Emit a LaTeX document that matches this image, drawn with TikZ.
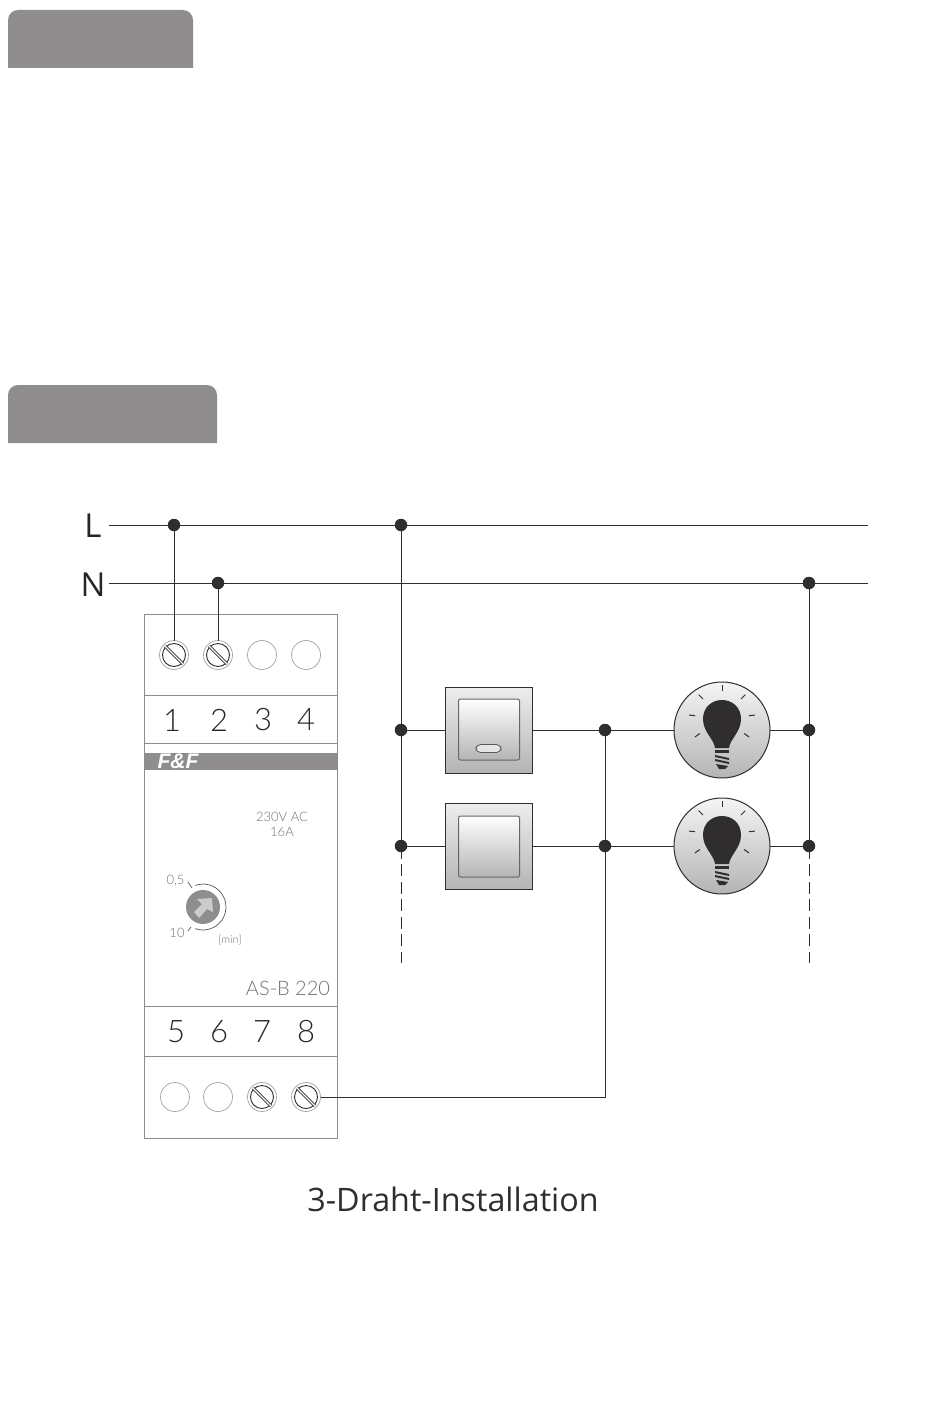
\documentclass[tikz,border=0pt]{standalone}
\usepackage{fontspec}
\setmainfont{Open Sans}
\newfontfamily\thinfont{Lato}[UprightFont=* Light]
\newfontfamily\logofont{Liberation Sans}
\usetikzlibrary{positioning}

\definecolor{tabgray}{HTML}{8F8D8D}
\definecolor{framegray}{HTML}{8C8C8C}
\definecolor{wirecol}{HTML}{2F2D2E}
\definecolor{shadegray}{HTML}{B4B4B4}

\tikzset{
  wire/.style={draw=wirecol, line width=1pt},
  stub/.style={wire, dash pattern=on 12pt off 5.5pt, dash phase=5.5pt},
  frame/.style={draw=framegray, line width=1pt},
  joint/.style={circle, fill=wirecol, minimum size=12.5pt, inner sep=0pt, outer sep=0pt},
  emptyscrew/.style={circle, draw=framegray!80, line width=.7pt, minimum size=29pt, inner sep=0pt, outer sep=0pt},
  screw/.style={emptyscrew, path picture={
    \draw [wirecol, line width=.9pt] (path picture bounding box.center) circle (11.5pt);
    \draw [wirecol, line width=3pt] ([shift={(-9pt,9pt)}]path picture bounding box.center) -- ([shift={(9pt,-9pt)}]path picture bounding box.center);
    \draw [white, line width=1.2pt] ([shift={(-11pt,11pt)}]path picture bounding box.center) -- ([shift={(11pt,-11pt)}]path picture bounding box.center);
  }},
  termnum/.style={font=\thinfont\fontsize{31}{31}\selectfont, text=black!85, inner sep=0pt},
  devtext/.style={font=\thinfont\fontsize{#1}{#1}\selectfont, text=framegray!80!black, inner sep=0pt, align=center},
  busname/.style={font=\fontsize{33}{33}\selectfont, text=black!85, inner sep=0pt},
  plate/.style={draw=wirecol, line width=1pt, top color=white!93!black, bottom color=shadegray, minimum width=87pt, minimum height=86pt, inner sep=0pt, outer sep=0pt},
  rocker/.style={draw=black!60, line width=1pt, rounded corners=2pt, top color=white, bottom color=shadegray, minimum width=61pt, minimum height=61pt, inner sep=0pt},
  pilot/.style={draw=black!65, line width=.8pt, rounded corners=4.5pt, fill=white!90!black, minimum width=25pt, minimum height=8pt, inner sep=0pt},
  lamp/.style={circle, draw=wirecol, line width=1pt, top color=white!96!black, bottom color=shadegray, minimum size=96pt, inner sep=0pt, outer sep=0pt},
}

\newcommand{\bulbglyph}[1]{
  \begin{scope}[shift={(#1.center)}]
    \fill [wirecol] (-7,18) .. controls (-8,9) and (-19,2) .. (-19,-11) .. controls (-19,-23) and (-10,-30) .. (0,-30) .. controls (10,-30) and (19,-23) .. (19,-11) .. controls (19,2) and (8,9) .. (7,18) -- cycle;
    \fill [wirecol] (-7,20) rectangle (7,23);
    \fill [wirecol] (-7,25) -- (7,28) -- (7,30) -- (-7,27) -- cycle;
    \fill [wirecol] (-7,29) -- (7,32) -- (7,34) -- (-7,31) -- cycle;
    \fill [wirecol] (-6,34) -- (6,36) -- (3,39) -- (-3,39) -- cycle;
    \foreach \ang in {90,45,135,5,175,-35,215} {
      \draw [wirecol, line width=1pt] (0,-12) ++(\ang:27pt) -- ++(\ang:6pt);
    }
  \end{scope}
}

\begin{document}
\begin{tikzpicture}[x=1pt, y=-1pt]
  \useasboundingbox (0,0) rectangle (950,1402);

  % grey tabs
  \fill [tabgray] (8,68) -- (8,20) arc[start angle=180, end angle=90, radius=10pt] -- (183,10) arc[start angle=90, end angle=0, radius=10pt] -- (193,68) -- cycle;
  \fill [tabgray] (8,443) -- (8,395) arc[start angle=180, end angle=90, radius=10pt] -- (207,385) arc[start angle=90, end angle=0, radius=10pt] -- (217,443) -- cycle;

  % bus lines
  \node (iL) [busname] at (93,526) {L};
  \node (iN) [busname] at (93,585) {N};
  \coordinate (Lstart) at (109,525);
  \coordinate (Lend) at (868,525);
  \coordinate (Nstart) at (109,583);
  \coordinate (Nend) at (868,583);
  \draw [wire] (Lstart) -- (Lend);
  \draw [wire] (Nstart) -- (Nend);

  % device housing
  \draw [frame] (144.5,614) rectangle (337,1138);
  \draw [frame] (144.5,695) -- (337,695);
  \draw [frame] (144.5,743.5) -- (337,743.5);
  \draw [frame] (144.5,1006) -- (337,1006);
  \draw [frame] (144.5,1056) -- (337,1056);
  \fill [tabgray] (145,753) rectangle (337,770);
  \node (ilogo) at (178,761.5) [inner sep=0pt, text=white, font=\logofont\bfseries\itshape\fontsize{21}{21}\selectfont] {F\&F};

  \node (s1) [screw] at (174,655) {};
  \node (s2) [screw] at (218,655) {};
  \node (s3) [emptyscrew] at (262,655) {};
  \node (s4) [emptyscrew] at (306,655) {};
  \node (s5) [emptyscrew] at (175,1097) {};
  \node (s6) [emptyscrew] at (218,1097) {};
  \node (s7) [screw] at (262,1097) {};
  \node (s8) [screw] at (306,1097) {};

  \node (n1) [termnum] at (172,720) {1};
  \node (n2) [termnum] at (219,720) {2};
  \node (n3) [termnum] at (263,720) {3};
  \node (n4) [termnum] at (306,720) {4};
  \node (n5) [termnum] at (176,1032) {5};
  \node (n6) [termnum] at (219,1032) {6};
  \node (n7) [termnum] at (262,1032) {7};
  \node (n8) [termnum] at (306,1032) {8};

  \node (irating) [devtext=13] at (282,824.5) {230V AC\\[1.5pt]16A};
  \node (itype) [devtext=20] at (288,988) {AS-B 220};
  \node (ifast) [devtext=13] at (175.5,881) {0,5};
  \node (islow) [devtext=13] at (177,933) {10};
  \node (iunit) [devtext=11] at (230,940) {[min]};

  % time knob
  \node (knob) [circle, fill=tabgray, minimum size=34pt, inner sep=0pt] at (203,907) {};
  \fill [white!80!black] (203,907) ++(9,-9) -- ++(-15,1) -- ++(5,5) -- ++(-8,8) -- ++(5,6) -- ++(8,-9) -- ++(6,3) -- cycle;
  \draw [framegray!60!black, line width=.7pt] (knob.center) ++(110:23pt) arc[start angle=110, end angle=-110, radius=23pt];
  \draw [framegray!70!black, line width=.8pt] (188,882) -- (192,888);
  \draw [framegray!70!black, line width=.8pt] (188,931) -- (191,927);

  % switches
  \node (sw1) [plate] at (488.5,730) {};
  \node [rocker] at (489,729.5) {};
  \node (led) [pilot] at (488.5,748.5) {};
  \node (sw2) [plate] at (488.5,846.5) {};
  \node [rocker] at (489,846.5) {};

  % lamps
  \node (lamp1) [lamp] at (722,730) {};
  \node (lamp2) [lamp] at (722,846) {};
  \bulbglyph{lamp1}
  \bulbglyph{lamp2}

  % junctions
  \node (jL1) [joint] at (174,525) {};
  \node (jL2) [joint] at (401,525) {};
  \node (jN1) [joint] at (218,583) {};
  \node (jN2) [joint] at (809,583) {};
  \node (jA1) [joint] at (401,730) {};
  \node (jA2) [joint] at (401,846) {};
  \node (jB1) [joint] at (605,730) {};
  \node (jB2) [joint] at (605,846) {};
  \node (jC1) [joint] at (809,730) {};
  \node (jC2) [joint] at (809,846) {};
  \coordinate (endA) at (401,963);
  \coordinate (endC) at (809,963);

  \draw [wire] (jL1) -- (s1);
  \draw [wire] (jN1) -- (s2);
  \draw [wire] (jL2) -- (jA1);
  \draw [wire] (jA1) -- (jA2);
  \draw [wire] (jN2) -- (jC1);
  \draw [wire] (jC1) -- (jC2);
  \draw [stub] (jA2) -- (endA);
  \draw [stub] (jC2) -- (endC);
  \draw [wire] (jA1) -- (sw1);
  \draw [wire] (jA2) -- (sw2.west |- jA2);
  \draw [wire] (sw1) -- (jB1);
  \draw [wire] (sw2.east |- jB2) -- (jB2);
  \draw [wire] (jB1) -- (lamp1);
  \draw [wire] (jB2) -- (lamp2);
  \draw [wire] (lamp1) -- (jC1);
  \draw [wire] (lamp2) -- (jC2);
  \draw [wire] (jB1) -- (jB2);
  \draw [wire] (s8) -| (jB2);

  \node (ititle) [inner sep=0pt, text=wirecol, font=\fontsize{32.3}{33}\selectfont] at (453,1199) {3-Draht-Installation};
\end{tikzpicture}
\end{document}
